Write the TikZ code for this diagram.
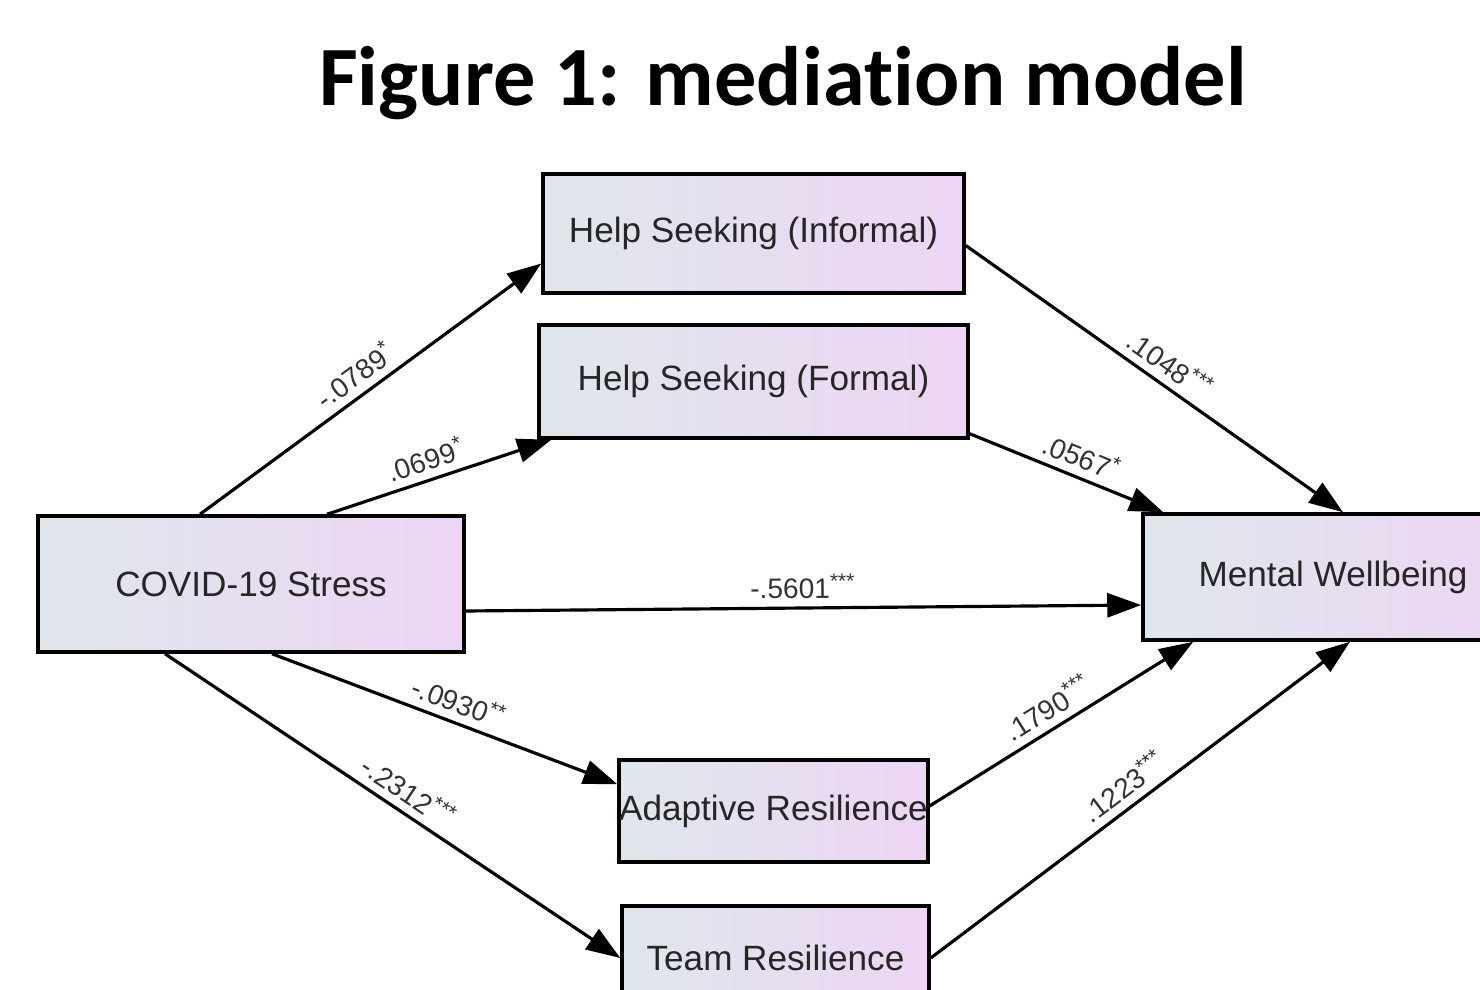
\documentclass[tikz,border=0pt]{standalone}
\usepackage{fontspec}
\setmainfont{Liberation Sans}
\newfontfamily\titlefont[Ligatures=NoCommon]{Carlito}
\usetikzlibrary{arrows.meta, positioning}
\definecolor{boxleft}{HTML}{E0E7EC}
\definecolor{boxright}{HTML}{EDD5F3}

\tikzset{
    varbox/.style={draw=black, line width=1pt, rectangle, inner sep=0pt,
        left color=boxleft, right color=boxright,
        font=\fontsize{10}{12}\selectfont, text=black!85},
    path/.style={line width=0.9pt, -{Triangle[length=0.34cm, width=0.24cm]}},
    coef/.style={sloped, above, inner sep=2.2pt, font=\fontsize{8}{9}\selectfont, text=black!80}
}

\begin{document}
\begin{tikzpicture}
    \useasboundingbox (0, 0) rectangle (14.8, -9.9);

    \node [anchor=base] (title) at (7.83, -1.05) {\titlefont\bfseries\fontsize{24}{28}\selectfont Figure 1: media\kern0pt tion model};

    \node [varbox, minimum width=4.26cm, minimum height=1.36cm] (stress)    at (2.51, -5.84)  {COVID-19 Stress};
    \node [varbox, minimum width=4.21cm, minimum height=1.19cm] (informal)  at (7.535, -2.335) {Help Seeking (Informal)};
    \node [varbox, minimum width=4.29cm, minimum height=1.13cm] (formal)    at (7.535, -3.815) {Help Seeking (Formal)};
    \node [varbox, minimum width=3.80cm, minimum height=1.26cm] (wellbeing) at (13.33, -5.77)  {Mental Wellbeing};
    \node [varbox, minimum width=3.07cm, minimum height=1.02cm] (adaptive)  at (7.735, -8.11)  {Adaptive Resilience};
    \node [varbox, minimum width=3.07cm, minimum height=1.04cm] (team)      at (7.755, -9.58)  {Team Resilience};

    % a paths
    \draw [path] ([xshift=-0.51cm]stress.north) -- node [coef, pos=0.49] {-.0789\textsuperscript{*}} ([yshift=-0.30cm]informal.west);
    \draw [path] ([xshift=0.76cm]stress.north) -- node [coef, pos=0.47] {.0699\textsuperscript{*}} ([xshift=0.14cm]formal.south west);
    \draw [path] ([xshift=0.21cm]stress.south) -- node [coef, pos=0.52] {-.0930\textsuperscript{**}} ([yshift=-0.26cm]adaptive.north west);
    \draw [path] ([xshift=-0.86cm]stress.south) -- node [coef, pos=0.51] {-.2312\textsuperscript{***}} (team.west);

    % direct path
    \draw [path] ([yshift=-0.27cm]stress.east) -- node [coef, pos=0.5] {-.5601\textsuperscript{***}} ([yshift=-0.28cm]wellbeing.west);

    % b paths
    \draw [path] ([yshift=-0.12cm]informal.east) -- node [coef, pos=0.51] {.1048\textsuperscript{***}} ([xshift=0.10cm]wellbeing.north);
    \draw [path] ([yshift=0.06cm]formal.south east) -- node [coef, pos=0.54] {.0567\textsuperscript{*}} ([xshift=0.22cm]wellbeing.north west);
    \draw [path] ([yshift=0.05cm]adaptive.east) -- node [coef, pos=0.49] {.1790\textsuperscript{***}} ([xshift=0.52cm]wellbeing.south west);
    \draw [path] (team.east) -- node [coef, pos=0.49] {.1223\textsuperscript{***}} ([xshift=0.17cm]wellbeing.south);

\end{tikzpicture}
\end{document}
